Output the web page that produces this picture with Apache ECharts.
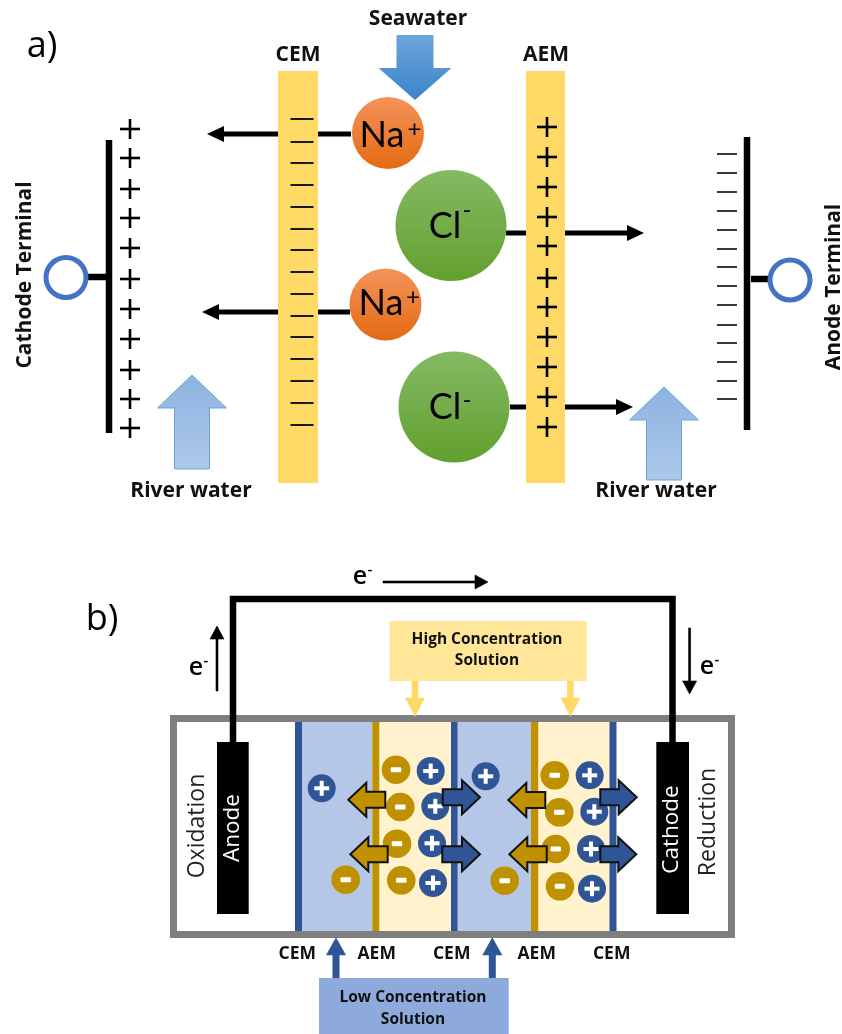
<!DOCTYPE html>
<html><head><meta charset="utf-8">
<style>html,body{margin:0;padding:0;background:#fff}#c{width:842px;height:1034px}</style>
<script src="https://cdn.jsdelivr.net/npm/echarts@6/dist/echarts.min.js"></script>
</head><body><div id="c"></div>
<script>
// ---- Diagram values, in axis units (x, y) ----
const membranesA = [[278,71,318,483],[526,71,565,483]];
const cemMinusY = [119,142,163,185,207,229,250,272,294,316,337,359,381,403,425];
const aemPlusY = [127,157,187,217,246,278,307,337,367,397,427];
const cathodePlusY = [129,158,189,218,248,279,309,339,370,399,428];
const anodeMinusY = [154,173,192,211,230,249,267,286,305,325,343,362,381,399];
const platesA = [[109,140,109,433],[747,137,747,430],[86,277,106,277],[751,279,768,279]];
const terminals = [[66,277.5],[790,280]];
const naIons = [[388,133],[385.5,304.5]];
const clIons = [[451,225.5],[454,407]];
const ionFlowArrows = [[351,134,207,134],[350,312,202,312],[506,233,644,233],[510,407,633,407]];
const seawaterArrow = [[415,35,415,100]];
const riverArrows = [[192,469,192,375],[664,480,664,387]];

const wirePath = [[233,745],[233,599],[672.5,599],[672.5,745]];
const blueZones = [[295,722,372,931],[451,722,531,931]];
const creamZones = [[372,722,451,931],[531,722,610,931]];
const cemLines = [[295,722,302,931],[451,722,457.5,931],[609.5,722,616.5,931]];
const aemLines = [[372.3,722,379.3,931],[531,722,538.2,931]];
const cellBox = [[173.5,718.5,731.5,934.5]];
const electrodes = [[217,742,248.7,914],[656.3,742,689,914]];
const cations = [[321.7,788.3],[430.7,771],[435.3,806.3],[432,843.3],[433,883],[485.7,776.3],[589.7,775.3],[594.3,811.7],[591,849],[592,888.7]];
const anions = [[345.7,879.7],[396,769.7],[400.3,807],[397,843.7],[401.3,880.3],[504.7,880.7],[554.7,775.3],[559.3,812.3],[555.7,849],[560,886.3]];
const anionArrows = [[385.3,799.7,348.3,799.7],[387.7,854.3,350.3,854.3],[545.3,800,508.3,800],[546.7,854.3,509.3,854.3]];
const cationArrows = [[442.7,797.3,480,797.3],[442.3,854.3,480,854.3],[600.3,797.3,636.7,797.3],[600.3,854.3,636.3,854.3]];
const electronArrows = [[383,582,488,582],[217,691,217,626],[689.6,628,689.6,694]];
const highBox = [[389.6,621,586.7,681]];
const lowBox = [[319,978,508.7,1034]];
const highArrows = [[415,681,415,716.7],[570.4,681,570.4,716.7]];
const lowArrows = [[336,978,336,937.3],[492.3,978,492.3,937.3]];

// ---- Text ----
const panelNames = ['a)','b)'], panelPts = [[42,47],[102,620]];
const headLabels = ['Seawater','CEM','AEM','River water','River water'];
const headPts = [[418,19],[298,55],[546,55],[191,491],[656,491]];
const terminalLabels = ['Cathode Terminal','Anode Terminal'], terminalPts = [[25,275],[834,287]];
const naLabels = ['Na','Na'], naPts = [[382,135],[381,303]];
const naSup = ['+','+'], naSupPts = [[414.5,129],[413,297]];
const clLabels = ['Cl','Cl'], clPts = [[445,226],[445,407.5]];
const clSup = ['-','-'], clSupPts = [[467,210],[467,400]];
const electronLabels = ['e','e','e'], electronPts = [[360,577],[196,668],[707,667]];
const electronSupPts = [[370,570],[206,661],[717,660]];
const electronSup = ['-','-','-'];
const boxLabels = ['High Concentration','Solution','Low Concentration','Solution'];
const boxPts = [[487,640],[487,661],[413,998],[413,1020]];
const memLabels = ['CEM','AEM','CEM','AEM','CEM'];
const memPts = [[297.3,954],[376.7,954],[451.7,954],[536.7,954],[611.7,954]];
const electrodeLabels = ['Anode','Cathode'], electrodePts = [[232.7,828],[671.7,829.5]];
const sideLabels = ['Oxidation','Reduction'], sidePts = [[197.3,826],[708,822]];

// ---- Helpers ----
const G = (a,b)=>new echarts.graphic.LinearGradient(0,0,0,1,[{offset:0,color:a},{offset:1,color:b}]);
function layer(name,data,draw){
  return {type:'custom',name,coordinateSystem:'cartesian2d',silent:true,clip:false,animation:false,data,
    renderItem:(p,api)=>{
      const v=data[p.dataIndex].map((_,i)=>api.value(i));
      return draw(v,api,p.dataIndex);
    }};
}
const rectEl=(v,api,style)=>{const a=api.coord([v[0],v[1]]),b=api.coord([v[2],v[3]]);
  return {type:'rect',shape:{x:Math.min(a[0],b[0]),y:Math.min(a[1],b[1]),width:Math.abs(b[0]-a[0]),height:Math.abs(b[1]-a[1])},style};};
const rects=(name,data,style)=>layer(name,data,(v,api)=>rectEl(v,api,style));
const arrowPts=(a,b,hl,hw,sw)=>{const dx=b[0]-a[0],dy=b[1]-a[1],L=Math.hypot(dx,dy),ux=dx/L,uy=dy/L,nx=-uy,ny=ux;
  const bx=b[0]-ux*hl,by=b[1]-uy*hl;
  return [[a[0]+nx*sw,a[1]+ny*sw],[bx+nx*sw,by+ny*sw],[bx+nx*hw,by+ny*hw],b,[bx-nx*hw,by-ny*hw],[bx-nx*sw,by-ny*sw],[a[0]-nx*sw,a[1]-ny*sw]];};
const arrows=(name,data,hl,hw,sw,style)=>layer(name,data,(v,api)=>({type:'polygon',
  shape:{points:arrowPts(api.coord([v[0],v[1]]),api.coord([v[2],v[3]]),hl,hw,sw)},style}));
const circles=(name,data,r,style)=>layer(name,data,(v,api)=>{const c=api.coord(v);return {type:'circle',shape:{cx:c[0],cy:c[1],r},style};});
const texts=(name,labels,pts,font,fill,rot)=>layer(name,pts,(v,api,i)=>{const c=api.coord(v);
  return {type:'text',x:c[0],y:c[1],rotation:rot||0,style:{text:labels[i],font,fill,align:'center',verticalAlign:'middle'}};});
const barEl=(c,w,h,fill,r)=>({type:'rect',shape:{x:c[0]-w/2,y:c[1]-h/2,width:w,height:h,r:r||0},style:{fill}});
const plusMarks=(name,x,ys,len,th,fill)=>layer(name,ys.map(y=>[x,y]),(v,api)=>{const c=api.coord(v);
  return {type:'group',children:[barEl(c,len,th,fill),barEl(c,th,len,fill)]};});
const minusMarks=(name,x,ys,len,th,fill)=>layer(name,ys.map(y=>[x,y]),(v,api)=>barEl(api.coord(v),len,th,fill));
const ions=(name,data,r,color,plus)=>layer(name,data,(v,api)=>{const c=api.coord(v);
  const ch=[{type:'circle',shape:{cx:c[0],cy:c[1],r},style:{fill:color}}];
  if(plus){ch.push(barEl(c,15,4,'#fff'),barEl(c,4,15,'#fff'));}else{ch.push(barEl(c,10.5,5,'#fff',1));}
  return {type:'group',children:ch};});

const LB='bold 21px "Open Sans"';
const series=[
  // panel a
  arrows('ion flow',ionFlowArrows,17,8,2.6,{fill:'#000'}),
  rects('membranes a',membranesA,{fill:'#FFD966'}),
  minusMarks('CEM charge',302,cemMinusY,23,2,'#1a1a1a'),
  plusMarks('AEM charge',547,aemPlusY,20,2.6,'#000'),
  plusMarks('cathode charge',130,cathodePlusY,20,2.6,'#000'),
  minusMarks('anode charge',727,anodeMinusY,20,1.8,'#222'),
  layer('plates',platesA,(v,api)=>({type:'line',shape:{x1:api.coord([v[0],v[1]])[0],y1:api.coord([v[0],v[1]])[1],x2:api.coord([v[2],v[3]])[0],y2:api.coord([v[2],v[3]])[1]},style:{stroke:'#000',lineWidth:6.5}})),
  circles('terminals',terminals,20,{fill:'#fff',stroke:'#4472C4',lineWidth:5}),
  arrows('seawater',seawaterArrow,32,36.5,18.5,{fill:G('#6FA5DC','#3A84C8')}),
  arrows('river',riverArrows,33,34.5,17.5,{fill:G('#8DB2E0','#ADC9E9'),stroke:'#6FA5DC',lineWidth:1}),
  circles('Na',naIons,36,{fill:G('#F4935A','#E46A12')}),
  circles('Cl',clIons,55.5,{fill:G('#85B964','#62A02E')}),
  texts('Na label',naLabels,naPts,'36px Lato','#000'),
  texts('Na sup',naSup,naSupPts,'24px Lato','#000'),
  texts('Cl label',clLabels,clPts,'36px Lato','#000'),
  texts('Cl sup',clSup,clSupPts,'24px Lato','#000'),
  texts('panel',panelNames,panelPts,'36px "Open Sans"','#000'),
  texts('head labels',headLabels,headPts,LB,'#111'),
  texts('terminal labels',terminalLabels,terminalPts,LB,'#111',Math.PI/2),
  // panel b
  rects('blue zones',blueZones,{fill:'#B4C7E7'}),
  rects('cream zones',creamZones,{fill:'#FFF2CC'}),
  rects('cem',cemLines,{fill:'#2F5597'}),
  rects('aem',aemLines,{fill:'#BF9000'}),
  rects('box',cellBox,{fill:'none',stroke:'#7F7F7F',lineWidth:7}),
  layer('wire',[wirePath.flat()],(v,api)=>{const pts=[];for(let i=0;i<v.length;i+=2)pts.push(api.coord([v[i],v[i+1]]));
    return {type:'polyline',shape:{points:pts},style:{fill:'none',stroke:'#000',lineWidth:6.5}};}),
  rects('electrodes',electrodes,{fill:'#000'}),
  texts('electrode labels',electrodeLabels,electrodePts,'22.5px "Open Sans"','#fff',Math.PI/2),
  texts('side labels',sideLabels,sidePts,'23px "Open Sans"','#222',Math.PI/2),
  ions('cations',cations,14,'#2F5597',true),
  ions('anions',anions,14.3,'#BF9000',false),
  arrows('anion arrows',anionArrows,18,17,8,{fill:'#BF9000',stroke:'#111',lineWidth:2}),
  arrows('cation arrows',cationArrows,18,17,8,{fill:'#2F5597',stroke:'#111',lineWidth:2}),
  arrows('electron arrows',electronArrows,13,7,1,{fill:'#000',stroke:'#000',lineWidth:.6}),
  rects('high box',highBox,{fill:'#FFE699'}),
  rects('low box',lowBox,{fill:'#8EA9DB'}),
  arrows('high arrows',highArrows,19,10,3.3,{fill:'#FFD966'}),
  arrows('low arrows',lowArrows,18,10,3.5,{fill:'#2F5597'}),
  texts('electron labels',electronLabels,electronPts,'600 25px "Open Sans"','#000'),
  texts('electron sup',electronSup,electronSupPts,'600 15px "Open Sans"','#000'),
  texts('box labels',boxLabels,boxPts,'bold 15.5px "Open Sans"','#111'),
  texts('membrane labels',memLabels,memPts,'bold 17.5px "Open Sans"','#111'),
];
const chart=echarts.init(document.getElementById('c'),null,{renderer:'canvas',width:842,height:1034});
chart.setOption({animation:false,backgroundColor:'#fff',tooltip:{show:false},
  grid:{left:0,right:0,top:0,bottom:0},
  xAxis:{type:'value',min:0,max:842,show:false},
  yAxis:{type:'value',min:0,max:1034,inverse:true,show:false},
  series});
</script></body></html>
